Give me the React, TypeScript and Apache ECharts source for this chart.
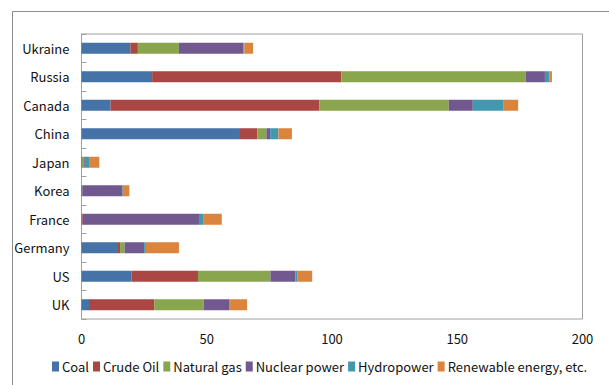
import React, { useEffect, useRef } from "react";
import * as echarts from "echarts";

const countries = ["Ukraine", "Russia", "Canada", "China", "Japan", "Korea", "France", "Germany", "US", "UK"];
const coal = [19.5, 28.2, 11.6, 62.9, 0.2, 0, 0, 14.2, 20.0, 3.0];
const crudeOil = [3.0, 75.5, 83.4, 7.3, 0, 0.3, 0.5, 1.2, 26.5, 26.1];
const naturalGas = [16.4, 73.7, 51.6, 3.6, 0.9, 0, 0, 1.8, 28.9, 19.7];
const nuclear = [25.7, 7.6, 9.6, 1.5, 0.3, 16.1, 46.4, 7.8, 10.0, 10.2];
const hydro = [0.4, 1.8, 12.1, 3.3, 1.9, 0.1, 1.9, 0.7, 0.9, 0.3];
const renewable = [3.5, 1.0, 6.0, 5.4, 3.8, 2.6, 7.2, 13.2, 5.8, 6.8];
const seriesNames = ["Coal", "Crude Oil", "Natural gas", "Nuclear power", "Hydropower", "Renewable energy, etc."];
const colors = ["#4572A7", "#AA4643", "#89A54E", "#71588F", "#4198AF", "#DB843D"];
const xTicks = [0, 50, 100, 150, 200];

const FONT = "'Noto Sans CJK KR', 'Noto Sans', sans-serif";

export default function App() {
  const ref = useRef<HTMLDivElement>(null);
  useEffect(() => {
    document.body.style.margin = "0";
    if (!ref.current) return;
    const chart = echarts.init(ref.current, null, { renderer: "svg" });
    const data = [coal, crudeOil, naturalGas, nuclear, hydro, renewable];
    chart.setOption({
      animation: false,
      backgroundColor: "#fff",
      color: colors,
      textStyle: { fontFamily: FONT },
      graphic: [
        {
          type: "rect",
          shape: { x: 12.5, y: 11.5, width: 700, height: 500 },
          style: { fill: "none", stroke: "#8c8c8c", lineWidth: 1 },
          silent: true,
        },
      ],
      grid: {
        left: 81.5,
        right: 26.5,
        top: 34,
        bottom: 66,
        show: true,
        borderColor: "#a0a0a0",
        borderWidth: 1,
        backgroundColor: "transparent",
      },
      legend: {
        bottom: 7,
        left: 47,
        itemWidth: 7,
        itemHeight: 10,
        itemGap: 4,
        icon: "rect",
        textStyle: { fontSize: 13, color: "#111", fontFamily: FONT, padding: [0, 0, 0, -2] },
        data: seriesNames,
      },
      xAxis: {
        type: "value",
        min: 0,
        max: 200,
        interval: 50,
        axisLine: { show: false },
        axisTick: { show: false },
        splitLine: { show: false },
        axisLabel: {
          fontSize: 13,
          color: "#111",
          margin: 13,
          fontFamily: FONT,
          formatter: (v: number) => (xTicks.includes(v) ? String(v) : ""),
        },
      },
      yAxis: {
        type: "category",
        data: countries,
        inverse: true,
        axisLine: { show: true, lineStyle: { color: "#a0a0a0" } },
        axisTick: { show: true, inside: true, length: 5, lineStyle: { color: "#a0a0a0" } },
        axisLabel: { fontSize: 13, color: "#111", margin: 12, fontFamily: FONT },
      },
      series: seriesNames.map((name, i) => ({
        name,
        type: "bar",
        stack: "total",
        barWidth: 11,
        data: data[i],
      })),
    });
    return () => chart.dispose();
  }, []);
  return <div ref={ref} style={{ width: 609, height: 385 }} />;
}
